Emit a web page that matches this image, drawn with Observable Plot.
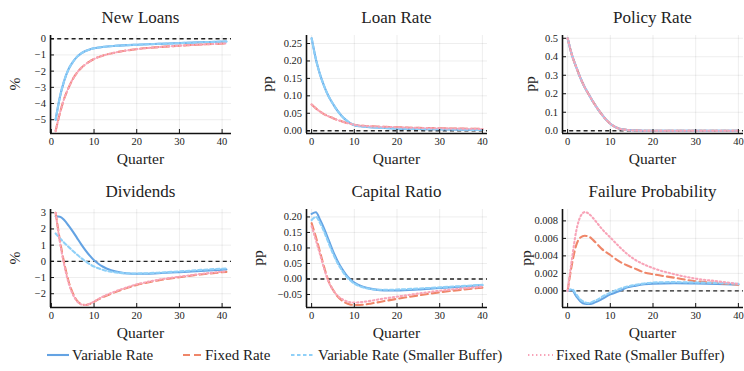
<!DOCTYPE html>
<html>
<head>
<meta charset="utf-8">
<script src="https://cdn.jsdelivr.net/npm/d3@7"></script>
<script src="https://cdn.jsdelivr.net/npm/@observablehq/plot@0.6"></script>
<style>
  html, body { margin: 0; padding: 0; background: #fff; overflow: hidden; }
  #root { position: relative; width: 744px; height: 371px; font-family: "Liberation Serif", "DejaVu Serif", serif; color: #222; }
  .abs { position: absolute; }
  .title { font-size: 17px; transform: translate(-50%, -50%); white-space: nowrap; }
  .xlab { font-size: 15.5px; transform: translate(-50%, -50%); white-space: nowrap; }
  .ylab { font-size: 15.5px; transform: translate(-50%, -50%) rotate(-90deg); white-space: nowrap; }
  .leg { font-size: 15px; white-space: nowrap; transform: translateY(-50%); }
</style>
</head>
<body>
<div id="root"></div>
<script>
// ---------------- DATA ----------------
const seriesNames = ["Variable Rate", "Fixed Rate", "Variable Rate (Smaller Buffer)", "Fixed Rate (Smaller Buffer)"];
const xTicks = [0, 10, 20, 30, 40];

// New Loans (%)
const nlQ      = [1, 2, 3, 4, 5, 6, 7, 8, 9, 10, 12, 15, 20, 25, 30, 35, 41];
const nlVar    = [-5.0, -3.6, -2.6, -1.9, -1.45, -1.12, -0.9, -0.76, -0.66, -0.59, -0.51, -0.44, -0.37, -0.32, -0.27, -0.22, -0.17];
const nlFix    = [-5.7, -4.6, -3.7, -3.05, -2.5, -2.1, -1.8, -1.58, -1.4, -1.25, -1.05, -0.85, -0.64, -0.52, -0.43, -0.36, -0.29];
const nlVarSB  = [-5.0, -3.6, -2.6, -1.9, -1.45, -1.12, -0.9, -0.76, -0.66, -0.59, -0.51, -0.44, -0.37, -0.32, -0.27, -0.22, -0.17];
const nlFixSB  = [-5.7, -4.6, -3.7, -3.05, -2.5, -2.1, -1.8, -1.58, -1.4, -1.25, -1.05, -0.85, -0.64, -0.52, -0.43, -0.36, -0.29];
const nlYTicks = [-5, -4, -3, -2, -1, 0];

// Loan Rate (pp)
const lrQ      = [0, 1, 2, 3, 4, 5, 6, 7, 8, 9, 10, 12, 15, 20, 25, 30, 35, 40];
const lrVar    = [0.265, 0.205, 0.16, 0.126, 0.098, 0.077, 0.058, 0.043, 0.031, 0.022, 0.016, 0.012, 0.009, 0.006, 0.005, 0.004, 0.003, 0.002];
const lrFix    = [0.075, 0.064, 0.055, 0.047, 0.041, 0.036, 0.031, 0.027, 0.023, 0.02, 0.017, 0.014, 0.012, 0.01, 0.008, 0.007, 0.006, 0.005];
const lrVarSB  = [0.265, 0.205, 0.16, 0.126, 0.098, 0.077, 0.058, 0.043, 0.031, 0.022, 0.016, 0.012, 0.009, 0.006, 0.005, 0.004, 0.003, 0.002];
const lrFixSB  = [0.075, 0.064, 0.055, 0.047, 0.041, 0.036, 0.031, 0.027, 0.023, 0.02, 0.017, 0.014, 0.012, 0.01, 0.008, 0.007, 0.006, 0.005];
const lrYTicks = [0, 0.05, 0.10, 0.15, 0.20, 0.25];

// Policy Rate (pp)
const prQ      = [0, 1, 2, 3, 4, 5, 6, 7, 8, 9, 10, 11, 12, 14, 16, 20, 30, 40];
const prVar    = [0.5, 0.41, 0.345, 0.285, 0.235, 0.195, 0.155, 0.12, 0.088, 0.06, 0.038, 0.022, 0.012, 0.004, 0.001, 0, 0, 0];
const prFix    = [0.5, 0.41, 0.345, 0.285, 0.235, 0.195, 0.155, 0.12, 0.088, 0.06, 0.038, 0.022, 0.012, 0.004, 0.001, 0, 0, 0];
const prVarSB  = [0.5, 0.41, 0.345, 0.285, 0.235, 0.195, 0.155, 0.12, 0.088, 0.06, 0.038, 0.022, 0.012, 0.004, 0.001, 0, 0, 0];
const prFixSB  = [0.5, 0.41, 0.345, 0.285, 0.235, 0.195, 0.155, 0.12, 0.088, 0.06, 0.038, 0.022, 0.012, 0.004, 0.001, 0, 0, 0];
const prYTicks = [0, 0.1, 0.2, 0.3, 0.4, 0.5];

// Dividends (%)
const dvQ      = [1, 2, 3, 4, 5, 6, 7, 8, 9, 10, 11, 12, 14, 16, 18, 20, 22, 25, 30, 35, 41];
const dvVar    = [2.78, 2.75, 2.55, 2.22, 1.85, 1.45, 1.05, 0.68, 0.35, 0.06, -0.15, -0.32, -0.55, -0.68, -0.75, -0.77, -0.77, -0.74, -0.67, -0.59, -0.5];
const dvFix    = [3.0, 1.3, -0.1, -1.2, -1.95, -2.42, -2.64, -2.7, -2.63, -2.5, -2.35, -2.22, -2.0, -1.8, -1.62, -1.46, -1.34, -1.18, -0.98, -0.81, -0.65];
const dvVarSB  = [1.72, 1.42, 1.15, 0.9, 0.65, 0.42, 0.2, 0.0, -0.18, -0.32, -0.43, -0.52, -0.64, -0.71, -0.74, -0.75, -0.74, -0.7, -0.62, -0.53, -0.44];
const dvFixSB  = [3.0, 1.2, -0.2, -1.3, -2.02, -2.46, -2.66, -2.7, -2.62, -2.48, -2.33, -2.19, -1.96, -1.76, -1.58, -1.42, -1.3, -1.14, -0.95, -0.78, -0.62];
const dvYTicks = [-2, -1, 0, 1, 2, 3];

// Capital Ratio (pp)
const crQ      = [0, 1, 2, 3, 4, 5, 6, 7, 8, 9, 10, 12, 14, 16, 18, 20, 25, 30, 35, 40];
const crVar    = [0.21, 0.215, 0.19, 0.16, 0.125, 0.09, 0.06, 0.035, 0.015, -0.001, -0.012, -0.025, -0.032, -0.036, -0.037, -0.037, -0.034, -0.029, -0.025, -0.02];
const crFix    = [0.18, 0.135, 0.085, 0.035, -0.008, -0.035, -0.055, -0.068, -0.077, -0.082, -0.084, -0.083, -0.079, -0.074, -0.069, -0.064, -0.053, -0.043, -0.035, -0.028];
const crVarSB  = [0.19, 0.2, 0.18, 0.15, 0.115, 0.082, 0.053, 0.03, 0.01, -0.004, -0.015, -0.027, -0.033, -0.035, -0.035, -0.034, -0.031, -0.027, -0.023, -0.019];
const crFixSB  = [0.17, 0.125, 0.078, 0.03, -0.01, -0.035, -0.053, -0.064, -0.071, -0.075, -0.076, -0.074, -0.07, -0.065, -0.061, -0.057, -0.047, -0.038, -0.031, -0.025];
const crYTicks = [-0.05, 0, 0.05, 0.10, 0.15, 0.20];

// Failure Probability (pp)
const fpQ      = [0, 1, 2, 3, 4, 5, 6, 7, 8, 10, 12, 14, 16, 18, 20, 25, 30, 35, 40];
const fpVar    = [0, 0.0001, -0.0006, -0.0012, -0.00148, -0.0015, -0.0014, -0.0012, -0.00095, -0.0004, -0.00005, 0.0004, 0.0006, 0.00075, 0.00083, 0.00088, 0.00085, 0.0008, 0.00072];
const fpFix    = [0, 0.003, 0.0052, 0.0061, 0.0063, 0.0062, 0.0058, 0.0053, 0.0048, 0.0041, 0.0034, 0.0029, 0.0025, 0.0021, 0.0019, 0.0015, 0.0011, 0.0009, 0.0007];
const fpVarSB  = [0, 0.0002, -0.0004, -0.001, -0.0013, -0.0014, -0.0012, -0.001, -0.0007, -0.0002, 0.0002, 0.0005, 0.0007, 0.00085, 0.00095, 0.001, 0.00095, 0.0009, 0.0008];
const fpFixSB  = [0, 0.0036, 0.0068, 0.0085, 0.009, 0.0088, 0.0083, 0.0077, 0.0071, 0.0061, 0.0051, 0.0042, 0.0035, 0.003, 0.0026, 0.0019, 0.0014, 0.0011, 0.0008];
const fpYTicks = [0, 0.002, 0.004, 0.006, 0.008];

// ---------------- STYLE ----------------
const styles = [
  { color: "#64a3e3", dash: null },
  { color: "#ef8669", dash: "7,4" },
  { color: "#8fd0f8", dash: "3.5,2.5" },
  { color: "#f8a4b8", dash: "1.4,2.6" }
];

const root = document.getElementById("root");
const colLeft = [50, 306, 562];
const rowTop = [35, 209];
const PW = 181, PH = 98;
const ML = 50, MR = 8, MT = 8, MB = 22;

function addDiv(cls, text, x, y) {
  const d = document.createElement("div");
  d.className = "abs " + cls;
  d.textContent = text;
  d.style.left = x + "px";
  d.style.top = y + "px";
  root.appendChild(d);
}

function panel(cfg) {
  const left = colLeft[cfg.col], top = rowTop[cfg.row];
  const data = [];
  cfg.series.forEach((vals, si) => vals.forEach((v, i) => data.push({ q: cfg.q[i], v, s: si })));
  const marks = [
    Plot.gridX(xTicks, { stroke: "#000", strokeOpacity: 0.09, strokeWidth: 0.8 }),
    Plot.gridY(cfg.yTicks, { stroke: "#000", strokeOpacity: 0.09, strokeWidth: 0.8 }),
    Plot.ruleY([0], { stroke: "#222", strokeWidth: 1.4, strokeDasharray: "4,3.2" })
  ];
  styles.forEach((st, si) => {
    marks.push(Plot.line(data.filter(d => d.s === si), {
      x: "q", y: "v", stroke: st.color, strokeWidth: 2.1,
      strokeDasharray: st.dash, curve: "monotone-x"
    }));
  });
  marks.push(
    Plot.axisX(xTicks, { tickSize: -4, tickPadding: 8, fontSize: 10.5, stroke: "#111" }),
    Plot.axisY(cfg.yTicks, { tickSize: -4, tickPadding: 8.5, fontSize: 10.5, tickFormat: cfg.fmt, stroke: "#111" }),
    Plot.ruleX([cfg.xDomain[0]], { stroke: "#111", strokeWidth: 1.6 }),
    Plot.ruleY([cfg.yDomain[0]], { stroke: "#111", strokeWidth: 1.6 })
  );
  const chart = Plot.plot({
    width: ML + PW + MR, height: MT + PH + MB,
    marginLeft: ML, marginRight: MR, marginTop: MT, marginBottom: MB,
    style: { fontFamily: '"Liberation Serif", serif', background: "transparent", color: "#222", overflow: "visible" },
    x: { domain: cfg.xDomain, label: null, axis: null },
    y: { domain: cfg.yDomain, label: null, axis: null },
    marks
  });
  chart.style.position = "absolute";
  chart.style.left = (left - ML) + "px";
  chart.style.top = (top - MT) + "px";
  root.appendChild(chart);
  addDiv("title", cfg.title, left + PW / 2, top - 17);
  addDiv("xlab", "Quarter", left + PW / 2, top + PH + 26);
  addDiv("ylab", cfg.ylab, left - cfg.ylabOff, top + PH / 2);
}

const f0 = d3.format(".0f"), f1 = d3.format(".1f"), f2 = d3.format(".2f"), f3 = d3.format(".3f");
const xA = [-0.2, 42.2], xB = [-1.2, 41.2];

panel({ col: 0, row: 0, title: "New Loans", ylab: "%", ylabOff: 35, q: nlQ, series: [nlVar, nlFix, nlVarSB, nlFixSB], xDomain: xA, yDomain: [-5.85, 0.2], yTicks: nlYTicks, fmt: f0 });
panel({ col: 1, row: 0, title: "Loan Rate", ylab: "pp", ylabOff: 39, q: lrQ, series: [lrVar, lrFix, lrVarSB, lrFixSB], xDomain: xB, yDomain: [-0.008, 0.273], yTicks: lrYTicks, fmt: f2 });
panel({ col: 2, row: 0, title: "Policy Rate", ylab: "pp", ylabOff: 32, q: prQ, series: [prVar, prFix, prVarSB, prFixSB], xDomain: xB, yDomain: [-0.015, 0.515], yTicks: prYTicks, fmt: f1 });
panel({ col: 0, row: 1, title: "Dividends", ylab: "%", ylabOff: 35, q: dvQ, series: [dvVar, dvFix, dvVarSB, dvFixSB], xDomain: xA, yDomain: [-2.85, 3.2], yTicks: dvYTicks, fmt: f0 });
panel({ col: 1, row: 1, title: "Capital Ratio", ylab: "pp", ylabOff: 48, q: crQ, series: [crVar, crFix, crVarSB, crFixSB], xDomain: xB, yDomain: [-0.092, 0.224], yTicks: crYTicks, fmt: f2 });
panel({ col: 2, row: 1, title: "Failure Probability", ylab: "pp", ylabOff: 36, q: fpQ, series: [fpVar, fpFix, fpVarSB, fpFixSB], xDomain: xB, yDomain: [-0.0019, 0.0093], yTicks: fpYTicks, fmt: f3 });

// ---------------- LEGEND ----------------
const legX = [[47, 72], [183, 205], [291, 318], [528, 556]];
const legY = 355;
seriesNames.forEach((name, i) => {
  const [lx, tx] = legX[i];
  const svg = d3.create("svg").attr("width", tx - lx).attr("height", 10)
    .style("position", "absolute").style("left", lx + "px").style("top", (legY - 5) + "px");
  svg.append("line").attr("x1", 0).attr("x2", tx - lx - 3).attr("y1", 5).attr("y2", 5)
    .attr("stroke", styles[i].color).attr("stroke-width", 2.1)
    .attr("stroke-dasharray", styles[i].dash);
  root.appendChild(svg.node());
  addDiv("leg", name, tx, legY);
});
</script>
</body>
</html>
